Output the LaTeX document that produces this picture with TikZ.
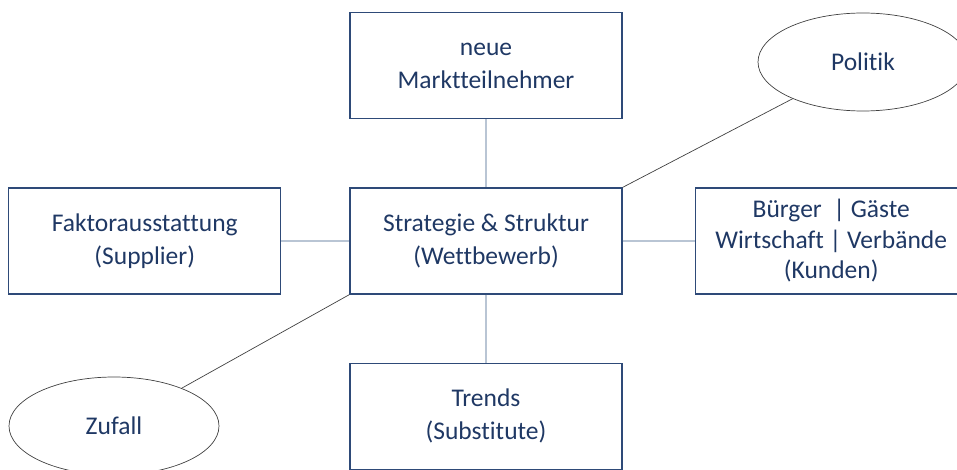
\documentclass[tikz,border=0pt]{standalone}
\usepackage{fontspec}
\setmainfont[Ligatures=NoCommon]{Carlito}
\usepackage{xcolor}
\usetikzlibrary{shapes.geometric,positioning}

\definecolor{navy}{HTML}{1F3864}
\definecolor{boxline}{HTML}{2E4A78}
\definecolor{linkline}{HTML}{B9C5D4}
\definecolor{ovalline}{HTML}{404040}

\begin{document}
\begin{tikzpicture}[x=1pt, y=1pt, node distance=68pt, font=\fontsize{25.5}{33}\selectfont]
\tikzset{
  base/.style={align=center, text=navy},
  force/.style={base, draw=boxline, line width=1.2pt, rectangle, minimum width=272pt, minimum height=106pt, inner sep=2pt},
  extra/.style={base, draw=ovalline, line width=0.7pt, ellipse, minimum width=210pt, minimum height=98pt, inner sep=0pt},
  link/.style={draw=linkline, line width=1.6pt},
  side/.style={draw=ovalline, line width=0.7pt},
}
\useasboundingbox (0,0) rectangle (957,-470);

% Center
\node (strat) [force] at (486,-241) {Strategie \& Struktur\\(Wettbewerb)};

% Four forces
\node (neue) [force, above=of strat] {neue\\Marktteilnehmer};
\node (faktor) [force, left=of strat] {Faktorausstattung\\(Supplier)};
\node (kunden) [force, right=72pt of strat, font=\fontsize{25.5}{30.5}\selectfont] {Bürger~~| Gäste\\Wirtschaft | Verbände\\(Kunden)};
\node (trends) [force, below=of strat] {Trends\\(Substitute)};

% Outside factors
\node (politik) [extra] at (863,-62) {Politik};
\node (zufall) [extra] at (114,-426) {Zufall};

% Links
\draw[link] (neue) -- (strat);
\draw[link] (faktor) -- (strat);
\draw[link] (strat) -- (kunden);
\draw[link] (strat) -- (trends);
\draw[side] (strat.north east) -- (politik);
\draw[side] (strat.south west) -- (zufall);

\end{tikzpicture}
\end{document}
